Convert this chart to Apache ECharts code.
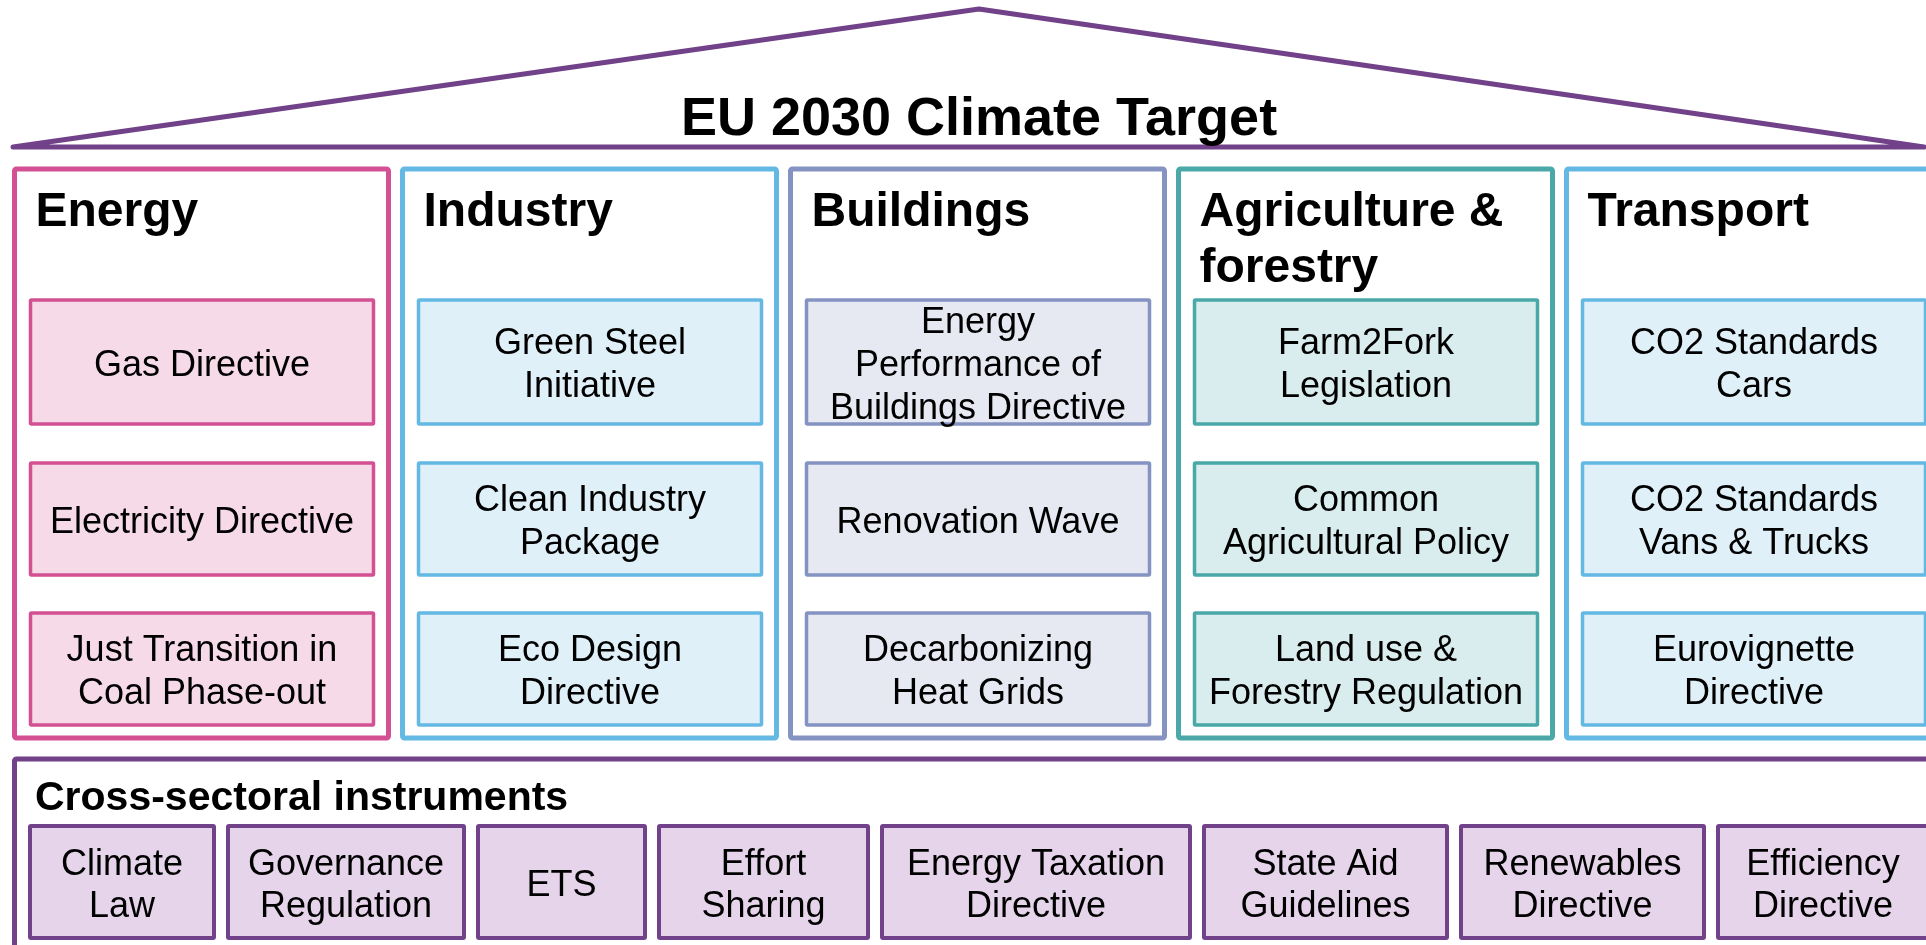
<!DOCTYPE html>
<html>
<head>
<meta charset="utf-8">
<title>EU 2030 Climate Target</title>
<script src="https://cdn.jsdelivr.net/npm/echarts@6/dist/echarts.min.js"></script>
<style>
  html, body { margin: 0; padding: 0; background: #fff; }
  #main { width: 1926px; height: 945px; }
</style>
</head>
<body>
<div id="main"></div>
<script>
// ---- content ----
const title = "EU 2030 Climate Target";
const sectors = ["Energy", "Industry", "Buildings", "Agriculture &\nforestry", "Transport"];
const energyItems = ["Gas Directive", "Electricity Directive", "Just Transition in\nCoal Phase-out"];
const industryItems = ["Green Steel\nInitiative", "Clean Industry\nPackage", "Eco Design\nDirective"];
const buildingsItems = ["Energy\nPerformance of\nBuildings Directive", "Renovation Wave", "Decarbonizing\nHeat Grids"];
const agricultureItems = ["Farm2Fork\nLegislation", "Common\nAgricultural Policy", "Land use &\nForestry Regulation"];
const transportItems = ["CO2 Standards\nCars", "CO2 Standards\nVans & Trucks", "Eurovignette\nDirective"];
const crossTitle = "Cross-sectoral instruments";
const crossInstruments = [
  "Climate\nLaw", "Governance\nRegulation", "ETS", "Effort\nSharing",
  "Energy Taxation\nDirective", "State Aid\nGuidelines", "Renewables\nDirective", "Efficiency\nDirective"
];

// ---- styles / layout ----
const FONT = "'Liberation Sans', Arial, sans-serif";
const PURPLE = "#714189";
const sectorStyles = [
  { stroke: "#d35193", fill: "#f6dae8" }, // energy
  { stroke: "#64b8e4", fill: "#e0f0f9" }, // industry
  { stroke: "#8593c3", fill: "#e6e8f2" }, // buildings
  { stroke: "#4aa8a9", fill: "#daedee" }, // agriculture
  { stroke: "#64b8e4", fill: "#e0f0f9" }  // transport
];
const sectorBox = { left: 14.5, step: 388, width: 374, top: 169, height: 569 };
const itemBox = { offset: 16, width: 343 };
const itemRows = [{ top: 300, height: 124 }, { top: 463, height: 112 }, { top: 613, height: 112 }];
const crossWidths = [184, 236, 167, 209, 308, 243, 243, 210];
const crossBox = { left: 30, gap: 14, top: 826, height: 112 };
const textShift = 4; // nudge so caps sit centred like the original

const sectorItems = [energyItems, industryItems, buildingsItems, agricultureItems, transportItems];

var chartDom = document.getElementById("main");
var myChart = echarts.init(chartDom, null, { renderer: "canvas" });

var elements = [];

// roof
elements.push({
  type: "polygon",
  shape: { points: [[13, 147], [979, 9], [1924, 147]] },
  style: { fill: "none", stroke: PURPLE, lineWidth: 5, lineJoin: "round" }
});
elements.push({
  type: "text",
  x: 979, y: 120,
  style: { text: title, font: "bold 54px " + FONT, fill: "#000", align: "center", verticalAlign: "middle" }
});

// sector pillars
sectors.forEach(function (name, i) {
  var st = sectorStyles[i];
  var x0 = sectorBox.left + i * sectorBox.step;
  elements.push({
    type: "rect",
    shape: { x: x0, y: sectorBox.top, width: sectorBox.width, height: sectorBox.height, r: 2 },
    style: { fill: "#fff", stroke: st.stroke, lineWidth: 5 }
  });
  elements.push({
    type: "text",
    x: x0 + 21, y: 185,
    style: {
      text: name, font: "bold 48px " + FONT, fill: "#000",
      align: "left", verticalAlign: "top", lineHeight: 56
    }
  });
  sectorItems[i].forEach(function (label, j) {
    var row = itemRows[j];
    var bx = x0 + itemBox.offset;
    elements.push({
      type: "rect",
      shape: { x: bx, y: row.top, width: itemBox.width, height: row.height, r: 1 },
      style: { fill: st.fill, stroke: st.stroke, lineWidth: 3.5 }
    });
    elements.push({
      type: "text",
      x: bx + itemBox.width / 2, y: row.top + row.height / 2 + textShift,
      style: {
        text: label, font: "36px " + FONT, fill: "#000",
        align: "center", verticalAlign: "middle", lineHeight: 43
      }
    });
  });
});

// cross-sectoral base
elements.push({
  type: "rect",
  shape: { x: 14.5, y: 759, width: 1940, height: 220, r: 2 },
  style: { fill: "#fff", stroke: PURPLE, lineWidth: 5 }
});
elements.push({
  type: "text",
  x: 35, y: 799,
  style: { text: crossTitle, font: "bold 41px " + FONT, fill: "#000", align: "left", verticalAlign: "middle" }
});
var cx = crossBox.left;
crossInstruments.forEach(function (label, k) {
  var w = crossWidths[k];
  elements.push({
    type: "rect",
    shape: { x: cx, y: crossBox.top, width: w, height: crossBox.height, r: 1 },
    style: { fill: "#e6d4eb", stroke: PURPLE, lineWidth: 4 }
  });
  elements.push({
    type: "text",
    x: cx + w / 2, y: crossBox.top + crossBox.height / 2 + textShift,
    style: {
      text: label, font: "36px " + FONT, fill: "#000",
      align: "center", verticalAlign: "middle", lineHeight: 42
    }
  });
  cx += w + crossBox.gap;
});

var option = {
  backgroundColor: "#fff",
  animation: false,
  graphic: { elements: elements }
};

myChart.setOption(option);
</script>
</body>
</html>
